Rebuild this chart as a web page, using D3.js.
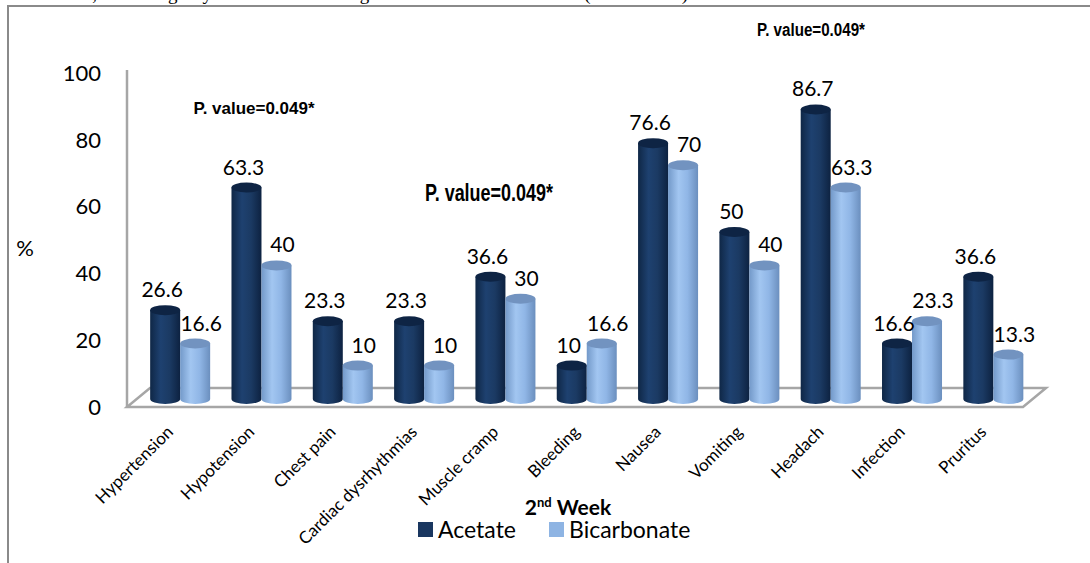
<!DOCTYPE html>
<html lang="en">
<head>
    <meta charset="UTF-8">
    <script src="https://d3js.org/d3.v7.min.js"></script>
    <title>2nd Week complications</title>
    <style>
        body { margin: 0; background: #fff; }
        svg { display: block; }
        .lbl { font-family: Lato, "Open Sans", sans-serif; fill: #000; }
        .pval { font-family: "Liberation Sans Narrow", "Liberation Sans", Arial, sans-serif; font-weight: bold; fill: #000; }
    </style>
</head>
<body>
    <div id="chart"></div>
    <script>
        // data
        const categories = ['Hypertension', 'Hypotension', 'Chest pain', 'Cardiac dysrhythmias', 'Muscle cramp',
                            'Bleeding', 'Nausea', 'Vomiting', 'Headach', 'Infection', 'Pruritus'];
        const acetate = [26.6, 63.3, 23.3, 23.3, 36.6, 10, 76.6, 50, 86.7, 16.6, 36.6];
        const bicarbonate = [16.6, 40, 10, 10, 30, 16.6, 70, 40, 63.3, 23.3, 13.3];
        const seriesNames = ['Acetate', 'Bicarbonate'];
        const yTicks = [0, 20, 40, 60, 80, 100];
        const pNotes = [
            {text: 'P. value=0.049*', x: 254, y: 114, size: 17, len: 121},
            {text: 'P. value=0.049*', x: 489, y: 201, size: 23, len: 128},
            {text: 'P. value=0.049*', x: 811, y: 36, size: 18, len: 108}
        ];

        const w = 1090;
        const h = 563;
        const depthX = 23, depthY = 19;   // 3D floor offset
        const barLift = 8;                // bars sit mid-depth on the floor

        const svg = d3.select('#chart')
                      .append('svg')
                      .attr('width', w)
                      .attr('height', h);

        // clipped caption line from the page above
        svg.append('text')
           .text('uare test, ** Highly statistical significant difference (P<0.001)')
           .attr('x', -2)
           .attr('y', 0)
           .attr('textLength', 690)
           .style('font-family', '"Liberation Serif", serif')
           .style('font-size', '19px');

        // frame
        svg.append('path')
           .attr('d', 'M8,' + h + ' L8,6 L' + w + ',6')
           .attr('fill', 'none')
           .attr('stroke', '#8a8a8a')
           .attr('stroke-width', 2);

        // scales
        const yScale = d3.scaleLinear()
                         .domain([0, 100])
                         .range([407, 73]);
        const xScale = d3.scaleBand()
                         .domain(categories)
                         .range([139.5, 1034]);
        const xSub = d3.scaleBand()
                       .domain(seriesNames)
                       .range([-30, 30]);

        // gradients for cylinders
        const defs = svg.append('defs');
        const grads = {
            Acetate: ['#0f2746', '#1e4170', '#1b3a63', '#0d2241'],
            Bicarbonate: ['#7399c9', '#a2c6f1', '#90b6e6', '#6b8fbe']
        };
        seriesNames.forEach(s => {
            let g = defs.append('linearGradient')
                        .attr('id', 'g-' + s)
                        .attr('x1', '0%').attr('x2', '100%')
                        .attr('y1', '0%').attr('y2', '0%');
            [0, 35, 65, 100].forEach((o, i) => {
                g.append('stop').attr('offset', o + '%').attr('stop-color', grads[s][i]);
            });
        });
        const topColor = {Acetate: '#0e2444', Bicarbonate: '#7293c0'};
        const legendColor = {Acetate: '#1a3760', Bicarbonate: '#8eb4e3'};

        // floor
        const x0 = 127, x1 = 1023, yf = yScale(0);
        svg.append('path')
           .attr('d', 'M' + x0 + ',' + yf + ' L' + x1 + ',' + yf + ' L' + (x1 + depthX) + ',' + (yf - depthY) +
                      ' L' + (x0 + depthX) + ',' + (yf - depthY) + ' Z')
           .attr('fill', 'none')
           .attr('stroke', '#a6a6a6')
           .attr('stroke-width', 2.5);

        // y axis line
        svg.append('line')
           .attr('x1', x0).attr('x2', x0)
           .attr('y1', yScale(100) - 3).attr('y2', yf)
           .attr('stroke', '#a6a6a6')
           .attr('stroke-width', 2.5);

        svg.append('g')
           .selectAll('text')
           .data(yTicks)
           .enter()
           .append('text')
           .attr('class', 'lbl')
           .text(d => d)
           .attr('x', 101)
           .attr('y', d => yScale(d))
           .attr('dy', '0.35em')
           .attr('text-anchor', 'end')
           .style('font-size', '22px');

        svg.append('text')
           .attr('class', 'lbl')
           .text('%')
           .attr('x', 25)
           .attr('y', 248)
           .attr('dy', '0.35em')
           .attr('text-anchor', 'middle')
           .style('font-size', '22px');

        // bars
        const rows = [];
        categories.forEach((c, i) => {
            rows.push({cat: c, s: 'Acetate', v: acetate[i]});
            rows.push({cat: c, s: 'Bicarbonate', v: bicarbonate[i]});
        });
        const bw = xSub.bandwidth();
        const ry = 5;
        const cyl = svg.append('g')
                       .selectAll('g')
                       .data(rows)
                       .enter()
                       .append('g');

        cyl.append('path')
           .attr('d', d => {
               let xl = xScale(d.cat) + xScale.bandwidth() / 2 + xSub(d.s);
               let yb = yScale(0) - barLift;
               let yt = yScale(d.v) - barLift;
               return 'M' + xl + ',' + yt + ' L' + xl + ',' + yb +
                      ' A' + (bw / 2) + ',' + ry + ' 0 0 0 ' + (xl + bw) + ',' + yb +
                      ' L' + (xl + bw) + ',' + yt + ' Z';
           })
           .attr('fill', d => 'url(#g-' + d.s + ')');

        cyl.append('ellipse')
           .attr('cx', d => xScale(d.cat) + xScale.bandwidth() / 2 + xSub(d.s) + bw / 2)
           .attr('cy', d => yScale(d.v) - barLift)
           .attr('rx', bw / 2)
           .attr('ry', ry)
           .attr('fill', d => topColor[d.s]);

        // value labels
        svg.append('g')
           .selectAll('text')
           .data(rows)
           .enter()
           .append('text')
           .attr('class', 'lbl')
           .text(d => d.v)
           .attr('x', d => xScale(d.cat) + xScale.bandwidth() / 2 + xSub(d.s) + bw / 2 + (d.s === 'Acetate' ? -3 : 6))
           .attr('y', d => yScale(d.v) - barLift - 13)
           .attr('text-anchor', 'middle')
           .style('font-size', '21px');

        // category labels
        svg.append('g')
           .selectAll('text')
           .data(categories)
           .enter()
           .append('text')
           .attr('class', 'lbl')
           .text(d => d)
           .attr('text-anchor', 'end')
           .attr('transform', d => 'translate(' + (xScale(d) + xScale.bandwidth() / 2 - 6) + ',433) rotate(-45)')
           .style('font-size', '17px');

        // p values
        svg.append('g')
           .selectAll('text')
           .data(pNotes)
           .enter()
           .append('text')
           .attr('class', 'pval')
           .text(d => d.text)
           .attr('x', d => d.x - d.len / 2)
           .attr('y', d => d.y)
           .attr('textLength', d => d.len)
           .attr('lengthAdjust', 'spacingAndGlyphs')
           .style('font-size', d => d.size + 'px');

        // axis title
        let title = svg.append('text')
                       .attr('class', 'lbl')
                       .attr('x', 568)
                       .attr('y', 515)
                       .attr('text-anchor', 'middle')
                       .style('font-size', '21px')
                       .style('font-weight', 'bold');
        title.append('tspan').text('2');
        title.append('tspan').text('nd').attr('dy', -8).style('font-size', '13px');
        title.append('tspan').text(' Week').attr('dy', 8);

        // legend
        const legendX = {Acetate: 418, Bicarbonate: 549};
        const leg = svg.append('g')
                       .selectAll('g')
                       .data(seriesNames)
                       .enter()
                       .append('g');
        leg.append('rect')
           .attr('x', d => legendX[d])
           .attr('y', 522)
           .attr('width', 15)
           .attr('height', 15)
           .attr('fill', d => legendColor[d]);
        leg.append('text')
           .attr('class', 'lbl')
           .text(d => d)
           .attr('x', d => legendX[d] + 20)
           .attr('y', 538)
           .style('font-size', '23px');
    </script>
</body>
</html>
